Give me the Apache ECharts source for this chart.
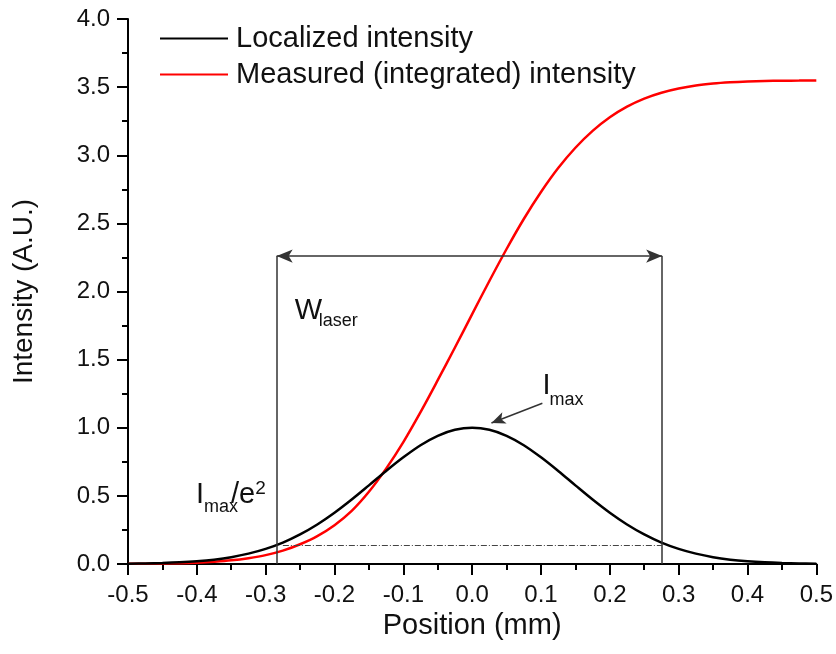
<!DOCTYPE html>
<html>
<head>
<meta charset="utf-8">
<script src="https://cdn.jsdelivr.net/npm/echarts@6/dist/echarts.min.js"></script>
<style>html,body{margin:0;padding:0;background:#fff;}#c{width:836px;height:654px;}</style>
</head>
<body>
<div id="c"></div>
<script>
// Position (mm)
const positions = [-0.5,-0.475,-0.45,-0.425,-0.4,-0.375,-0.35,-0.325,-0.3,-0.275,-0.25,-0.225,-0.2,-0.175,-0.15,-0.125,-0.1,-0.075,-0.05,-0.025,0,0.025,0.05,0.075,0.1,0.125,0.15,0.175,0.2,0.225,0.25,0.275,0.3,0.325,0.35,0.375,0.4,0.425,0.45,0.475,0.5];
// Localized intensity (black)
const localized = [0.002,0.004,0.007,0.012,0.020,0.032,0.050,0.076,0.111,0.157,0.217,0.290,0.376,0.473,0.577,0.683,0.783,0.872,0.941,0.985,1.000,0.985,0.941,0.872,0.783,0.683,0.577,0.473,0.376,0.290,0.217,0.157,0.111,0.076,0.050,0.032,0.020,0.012,0.007,0.004,0.002];
// Measured (integrated) intensity (red)
const measured = [0.001,0.002,0.004,0.006,0.010,0.017,0.027,0.043,0.065,0.098,0.145,0.205,0.285,0.390,0.530,0.700,0.895,1.115,1.349,1.589,1.834,2.077,2.312,2.532,2.730,2.906,3.055,3.179,3.279,3.357,3.416,3.459,3.490,3.512,3.526,3.535,3.541,3.545,3.547,3.548,3.549];
const seriesNames = ['Localized intensity', 'Measured (integrated) intensity'];
// annotation geometry (data units)
const wLeft = -0.284, wRight = 0.276, wLevel = 2.26;
const e2Level = 0.135, e2Start = -0.275;
const imaxArrowFrom = [0.102, 1.18], imaxArrowTo = [0.028, 1.035];

const chart = echarts.init(document.getElementById('c'), null, {renderer: 'canvas'});
const FONT = 'Liberation Sans, Arial, sans-serif';
const toPairs = (ys) => positions.map((x, i) => [x, ys[i]]);

const option = {
  animation: false,
  backgroundColor: '#fff',
  grid: {left: 128, right: 19, top: 19, bottom: 90, containLabel: false},
  legend: {
    orient: 'vertical', left: 155, top: 19, itemWidth: 68, itemHeight: 2, itemGap: 7,
    icon: 'rect',
    textStyle: {fontFamily: FONT, fontSize: 29, color: '#111', lineHeight: 29, padding: [0,0,0,3]},
    data: [
      {name: seriesNames[0], itemStyle: {color: '#000'}},
      {name: seriesNames[1], itemStyle: {color: '#ff0000'}}
    ]
  },
  xAxis: {
    type: 'value', min: -0.5, max: 0.5, interval: 0.1,
    name: 'Position (mm)', nameLocation: 'middle', nameGap: 41,
    nameTextStyle: {fontFamily: FONT, fontSize: 29, color: '#111'},
    axisLine: {show: true, onZero: false, lineStyle: {color: '#000', width: 2}},
    axisTick: {show: true, inside: false, length: 11, lineStyle: {color: '#000', width: 2}},
    minorTick: {show: true, splitNumber: 2, length: 6, lineStyle: {color: '#000', width: 2}},
    splitLine: {show: false},
    axisLabel: {fontFamily: FONT, fontSize: 24, color: '#111', margin: 19,
      formatter: v => (Math.abs(v) < 1e-9 ? 0 : v).toFixed(1)}
  },
  yAxis: {
    type: 'value', min: 0, max: 4, interval: 0.5,
    name: 'Intensity (A.U.)', nameLocation: 'middle', nameGap: 90,
    nameTextStyle: {fontFamily: FONT, fontSize: 28, color: '#111'},
    axisLine: {show: true, onZero: false, lineStyle: {color: '#000', width: 2}},
    axisTick: {show: true, inside: false, length: 11, lineStyle: {color: '#000', width: 2}},
    minorTick: {show: true, splitNumber: 2, length: 6, lineStyle: {color: '#000', width: 2}},
    splitLine: {show: false},
    axisLabel: {fontFamily: FONT, fontSize: 24, color: '#111', margin: 18,
      formatter: v => v.toFixed(1)}
  },
  series: [
    {
      name: seriesNames[0], type: 'line', data: toPairs(localized), smooth: 0.35,
      symbol: 'none', color: '#000', lineStyle: {color: '#000', width: 2.5}, z: 3,
      markLine: {
        silent: true, symbol: 'none', symbolSize: [10, 16], label: {show: false},
        lineStyle: {color: '#333', width: 1.5, type: 'solid'},
        emphasis: {disabled: true},
        data: [
          [{coord: [wLeft, 0]}, {coord: [wLeft, wLevel]}],
          [{coord: [wRight, 0]}, {coord: [wRight, wLevel]}],
          [{coord: [wLeft, wLevel], symbol: 'arrow'}, {coord: [wRight, wLevel], symbol: 'arrow'}],
          [{coord: [e2Start, e2Level], lineStyle: {color: '#444', width: 1, type: [6, 2, 1, 2]}},
           {coord: [wRight, e2Level]}],
          [{coord: imaxArrowFrom, lineStyle: {color: '#333', width: 1.5}}, {coord: imaxArrowTo, symbol: 'arrow', symbolSize: [9, 14]}]
        ]
      }
    },
    {
      name: seriesNames[1], type: 'line', data: toPairs(measured), smooth: 0.35,
      symbol: 'none', color: '#ff0000', lineStyle: {color: '#ff0000', width: 2.5}, z: 2
    }
  ]
};
chart.setOption(option);

// annotation texts anchored at data coords (left, baseline)
const texts = [
  {t: 'W', at: [-0.2576, 1.783], fs: 29},
  {t: 'laser', at: [-0.2228, 1.739], fs: 18},
  {t: 'I', at: [-0.4013, 0.433], fs: 29},
  {t: 'max', at: [-0.3897, 0.374], fs: 18},
  {t: '/e', at: [-0.3505, 0.433], fs: 29},
  {t: '2', at: [-0.3150, 0.505], fs: 19},
  {t: 'I', at: [0.1023, 1.233], fs: 29},
  {t: 'max', at: [0.1125, 1.160], fs: 18}
];
chart.setOption({
  graphic: texts.map(o => {
    const p = chart.convertToPixel({gridIndex: 0}, o.at);
    return {
      type: 'text', silent: true, z: 10,
      x: p[0], y: p[1] - 0.3465 * o.fs,
      style: {text: o.t, fontFamily: FONT, fontSize: o.fs, fill: '#111', align: 'left', verticalAlign: 'middle'}
    };
  })
});
</script>
</body>
</html>
